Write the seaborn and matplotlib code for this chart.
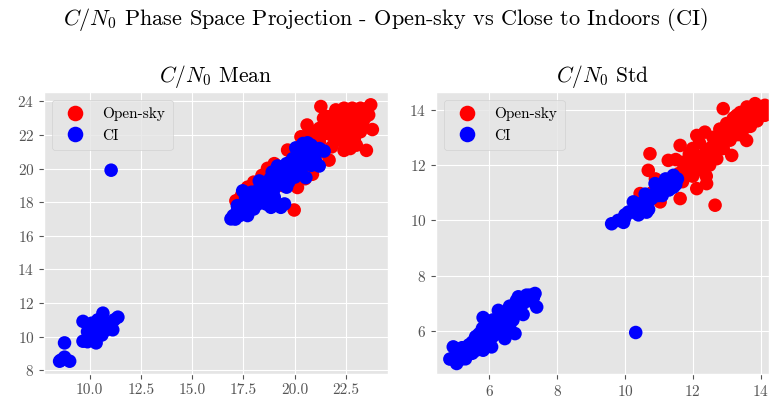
import matplotlib
matplotlib.use("Agg")
import matplotlib.pyplot as plt
import pandas as pd
import seaborn as sns

# C/N0 mean projection: (x, y) pairs per scenario
mean_open_x = [21.27, 23.70, 23.55, 23.3, 23.0, 22.7, 22.5, 22.2, 21.9, 21.7, 21.5, 21.2, 20.9, 20.70,
               21.0, 21.3, 21.6, 21.9, 22.2, 22.5, 22.8, 23.1, 23.4, 23.78, 23.49, 22.40, 22.6, 22.9,
               23.2, 22.1, 21.8, 21.67, 21.4, 21.1, 20.8, 20.5, 20.3, 22.0, 22.3, 22.8, 21.6, 20.6,
               19.65, 19.9, 18.67, 19.0, 18.4, 18.0, 17.7, 17.13, 17.4, 20.13, 19.97, 20.86, 20.5,
               20.3, 21.0, 19.4, 18.8,
               22.0, 22.3, 22.6, 23.0, 23.3, 23.6, 21.4, 22.4, 22.9, 21.8, 21.2, 20.9, 23.2, 22.6,
               20.6, 22.7, 23.0]
mean_open_y = [23.70, 23.80, 23.6, 23.4, 23.3, 23.1, 22.9, 23.0, 23.2, 22.8, 22.6, 22.4, 22.2, 22.23,
               21.8, 22.0, 22.1, 22.4, 22.5, 22.4, 22.7, 22.9, 23.0, 22.33, 21.09, 21.09, 21.4, 21.8,
               22.2, 21.7, 21.3, 20.51, 21.0, 21.3, 21.0, 21.6, 21.9, 23.5, 23.3, 23.6, 23.1, 22.6,
               21.11, 20.8, 20.02, 20.3, 19.6, 19.2, 18.9, 18.09, 18.4, 18.88, 17.54, 19.67, 19.4,
               20.0, 20.2, 19.0, 18.6,
               22.0, 21.9, 22.1, 22.5, 22.7, 23.2, 23.0, 23.6, 22.9, 22.0, 21.6, 21.6, 23.6, 22.6,
               20.7, 21.2, 21.4]

mean_ci_x = [16.89, 17.1, 17.0, 17.3, 17.2, 17.46, 17.5, 17.70, 17.8, 17.9, 18.0, 18.1, 18.27, 18.3,
             18.5, 18.6, 18.8, 18.84, 19.0, 19.1, 19.16, 19.32, 19.3, 19.5, 19.6, 19.8, 19.9, 20.05,
             20.1, 20.3, 20.5, 20.62, 20.54, 20.7, 20.9, 21.19, 21.43, 21.0, 20.2, 19.7, 19.0, 18.4,
             17.6, 20.8, 18.9, 21.2,
             17.2, 17.6, 17.9, 18.2, 18.5, 18.7, 18.9, 19.2, 19.4, 19.6, 19.8, 20.0, 20.2, 20.4,
             20.6, 20.8, 21.0, 19.5, 18.6, 20.4, 17.4, 18.2,
             11.05,
             8.54, 9.03, 8.78, 8.78, 8.6, 9.68, 9.68, 9.9, 10.0, 10.1, 10.2, 10.32, 10.3, 10.4, 10.5,
             10.65, 10.6, 10.7, 10.8, 11.13, 11.0, 11.38, 11.2, 9.9, 10.0,
             10.1, 10.4, 10.6, 10.9, 10.5, 10.2]
mean_ci_y = [17.01, 17.0, 17.2, 17.2, 17.5, 18.68, 17.8, 17.21, 18.1, 18.6, 17.6, 18.3, 19.27, 18.8,
             18.4, 19.0, 19.4, 17.70, 18.3, 19.7, 20.16, 17.70, 19.1, 19.6, 20.3, 19.8, 20.6, 21.24,
             20.4, 20.9, 21.3, 21.54, 19.47, 20.6, 21.0, 20.16, 21.05, 20.5, 19.9, 19.2, 18.8, 18.2,
             17.5, 21.4, 17.9, 21.2,
             17.8, 18.3, 17.9, 18.7, 19.1, 18.8, 19.8, 19.3, 20.0, 18.9, 20.1, 19.5, 20.7, 20.2,
             20.9, 20.2, 21.1, 17.9, 17.9, 21.5, 17.4, 17.9,
             19.91,
             8.54, 8.54, 8.78, 9.63, 8.6, 10.91, 9.73, 10.3, 10.6, 10.0, 10.5, 9.63, 10.8, 10.3, 11.0,
             11.40, 10.6, 10.9, 10.4, 10.41, 10.8, 11.16, 11.0, 9.7, 10.1,
             10.8, 11.0, 10.1, 10.6, 10.7, 10.2]

# C/N0 standard deviation projection
std_open_x = [12.90, 13.84, 14.13, 14.13, 13.95, 13.7, 13.5, 13.3, 13.2, 13.0, 12.8, 12.6, 12.4, 12.2,
              12.0, 11.8, 11.6, 11.4, 11.2, 13.59, 13.15, 12.66, 12.41, 12.12, 11.63, 11.04, 10.74,
              10.69, 10.45, 11.63, 12.12, 12.36, 11.28, 12.71, 13.7, 13.9, 14.0, 13.4, 12.9, 12.5,
              12.3, 12.0, 11.7, 11.9, 12.2, 12.6, 13.0, 13.4, 13.6, 12.8, 11.5, 12.4, 10.9, 11.1, 10.8,
              13.8, 13.5, 13.3, 13.1, 12.9, 12.7, 12.5, 12.3, 12.1, 11.9, 11.7, 13.2, 13.6, 14.1,
              12.0, 12.6]
std_open_y = [14.04, 14.22, 14.16, 13.8, 14.0, 13.9, 13.6, 13.8, 13.4, 13.1, 12.9, 12.7, 12.5, 12.3,
              12.1, 11.9, 11.7, 11.5, 11.3, 12.89, 12.35, 10.55, 11.33, 11.15, 10.79, 10.67, 12.41,
              11.81, 10.97, 12.71, 13.07, 13.19, 12.17, 12.23, 13.4, 13.6, 13.9, 13.1, 12.6, 12.0,
              11.8, 11.6, 11.4, 12.4, 12.8, 13.0, 13.5, 13.9, 14.1, 13.3, 12.2, 11.6, 11.5, 11.1, 11.0,
              13.6, 13.3, 13.1, 12.9, 13.0, 12.5, 12.6, 12.2, 11.9, 11.7, 12.1, 13.7, 13.8, 14.0,
              12.6, 12.3]

std_ci_x = [9.61, 9.96, 9.8, 10.0, 10.1, 10.25, 10.3, 10.5, 10.64, 10.6, 10.7, 10.89, 10.9, 11.0, 11.1,
            11.2, 11.3, 11.43, 11.55, 11.43, 11.2, 10.4, 10.0,
            10.2, 10.4, 10.6, 10.8, 11.0, 11.1, 11.3, 11.5, 10.7,
            10.32,
            4.84, 5.04, 4.94, 5.1, 5.2, 5.3, 5.4, 5.5, 5.6, 5.6, 5.7, 5.82, 5.8, 5.82, 5.9, 6.0, 6.07,
            6.1, 6.2, 6.27, 6.3, 6.4, 6.46, 6.5, 6.6, 6.7, 6.76, 6.8, 6.86, 6.9, 7.0, 7.1, 7.2, 7.35,
            7.40, 7.3, 6.0, 5.5, 6.3, 6.6, 5.9, 5.3,
            5.0, 5.2, 5.4, 5.5, 5.7, 5.8, 5.9, 6.0, 6.1, 6.2, 6.3, 6.4, 6.5, 6.6, 6.7, 6.8, 6.9,
            7.0, 7.1, 7.2, 6.2, 6.5, 5.6]
std_ci_y = [9.88, 9.93, 10.0, 10.1, 10.3, 10.67, 10.4, 10.5, 10.30, 10.95, 10.7, 11.33, 11.0, 11.2, 10.9,
            11.3, 11.4, 11.63, 11.5, 11.2, 11.5, 10.6, 10.2,
            10.3, 10.2, 10.6, 10.8, 10.9, 11.3, 11.1, 11.3, 10.4,
            5.95,
            4.99, 4.83, 5.43, 5.2, 5.4, 5.3, 5.5, 5.6, 5.5, 5.8, 5.9, 6.49, 6.1, 5.31, 6.0, 6.2, 5.43,
            6.4, 6.1, 6.75, 6.4, 6.6, 5.73, 6.3, 6.9, 6.7, 5.91, 7.1, 7.24, 6.8, 7.0, 7.3, 7.1, 7.36,
            6.87, 7.2, 5.7, 5.2, 6.0, 6.2, 5.6, 5.0,
            5.1, 5.0, 5.2, 5.5, 5.6, 5.8, 6.3, 5.9, 5.8, 6.3, 6.6, 6.2, 6.5, 6.6, 6.4, 6.8, 7.1,
            6.6, 7.1, 7.3, 5.9, 6.0, 5.3]

labels = ["Open-sky", "CI"]
palette = {"Open-sky": "#ff0000", "CI": "#0000ff"}


def frame(xo, yo, xc, yc):
    return pd.DataFrame({
        "x": list(xo) + list(xc),
        "y": list(yo) + list(yc),
        "scenario": [labels[0]] * len(xo) + [labels[1]] * len(xc),
    })


plt.style.use("ggplot")
plt.rcParams.update({
    "font.family": "serif",
    "font.serif": ["cmr10"],
    "mathtext.fontset": "cm",
    "axes.formatter.use_mathtext": True,
    "axes.unicode_minus": False,
    "xtick.labelsize": 11,
    "ytick.labelsize": 11,
    "xtick.color": "#555555",
    "ytick.color": "#555555",
})

fig = plt.figure(figsize=(7.70, 4.01), dpi=100)
ax1 = fig.add_axes([0.0571, 0.0673, 0.4468, 0.7032])
ax2 = fig.add_axes([0.5662, 0.0673, 0.4325, 0.7032])

panels = [
    (ax1, frame(mean_open_x, mean_open_y, mean_ci_x, mean_ci_y), r"$C/N_0$ Mean"),
    (ax2, frame(std_open_x, std_open_y, std_ci_x, std_ci_y), r"$C/N_0$ Std"),
]
for ax, df, title in panels:
    sns.scatterplot(data=df, x="x", y="y", hue="scenario", palette=palette,
                    hue_order=labels, s=95, linewidth=0, alpha=1, ax=ax)
    ax.set_xlabel("")
    ax.set_ylabel("")
    ax.set_title(title, fontsize=15.5, pad=7, color="black")
    leg = ax.legend(loc="upper left", fontsize=11, frameon=True, markerscale=1.15,
                    borderpad=0.5)
    leg.get_frame().set_facecolor("#E5E5E5")
    leg.get_frame().set_edgecolor("#cccccc")

ax1.set_xticks([10.0, 12.5, 15.0, 17.5, 20.0, 22.5])
ax1.set_xticklabels(["10.0", "12.5", "15.0", "17.5", "20.0", "22.5"])
ax1.set_yticks([8, 10, 12, 14, 16, 18, 20, 22, 24])
ax2.set_xticks([6, 8, 10, 12, 14])
ax2.set_yticks([6, 8, 10, 12, 14])
ax2.set_xlim(4.43, 14.25)
ax2.set_ylim(4.45, 14.64)

fig.suptitle(r"$C/N_0$ Phase Space Projection - Open-sky vs Close to Indoors (CI)",
             fontsize=16, y=0.985)

fig.savefig("out.png", dpi=100)
